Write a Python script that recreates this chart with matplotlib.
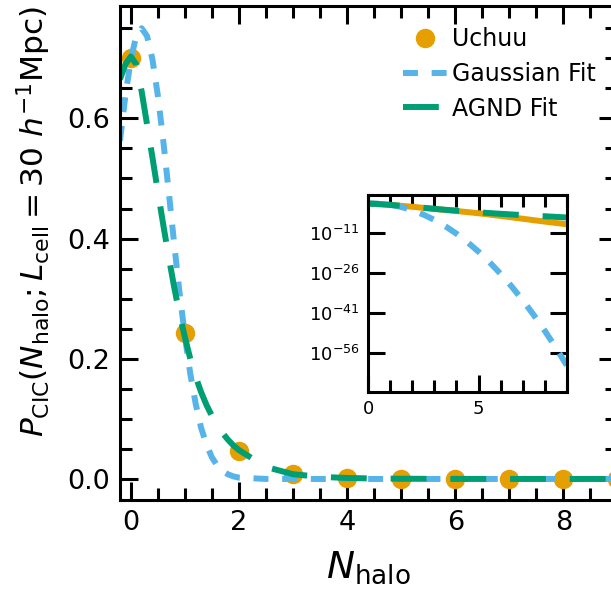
import matplotlib.pyplot as plt
from matplotlib.ticker import MultipleLocator, FixedLocator, NullLocator

# counts-in-cells probability, Uchuu haloes in 30 Mpc/h cells
n_halo = [0, 1, 2, 3, 4, 5, 6, 7, 8, 9]
p_uchuu = [0.70, 0.243, 0.047, 0.0076, 1.26e-3, 1.8e-4, 1.8e-5, 1.6e-6, 1.4e-7, 1.4e-8]

# fitted curves, sampled on a fine grid near the peak and a coarse one in the tail
fit_x = [-0.2, -0.1, 0.0, 0.1, 0.2, 0.3, 0.4, 0.5, 0.6, 0.7, 0.8, 0.9, 1.0,
         1.1, 1.2, 1.3, 1.4, 1.5, 1.6, 1.7, 1.8, 1.9, 2.0, 2.5, 3.0, 3.5,
         4.0, 4.5, 5.0, 5.5, 6.0, 6.5, 7.0, 7.5, 8.0, 8.5, 9.0]
p_gauss = [0.563, 0.638, 0.698, 0.737, 0.750, 0.737, 0.698, 0.638, 0.563,
           0.479, 0.393, 0.311, 0.238, 0.175, 0.125, 0.085, 0.057, 0.036,
           0.022, 0.013, 0.0076, 0.0042, 0.0022, 5.6e-5, 5.8e-7, 2.4e-9,
           4.1e-12, 2.8e-15, 8.0e-19, 9.2e-23, 4.3e-27, 8.3e-32, 6.4e-37,
           2.0e-42, 2.6e-48, 1.4e-54, 3.0e-61]
p_agnd = [0.665, 0.690, 0.703, 0.690, 0.645, 0.590, 0.535, 0.478, 0.423,
          0.370, 0.320, 0.275, 0.236, 0.200, 0.170, 0.1445, 0.123, 0.105,
          0.089, 0.076, 0.065, 0.0556, 0.048, 0.020, 0.0079, 0.0035,
          1.66e-3, 7.9e-4, 4.0e-4, 2.1e-4, 1.12e-4, 6.3e-5, 3.7e-5,
          2.2e-5, 1.35e-5, 7.9e-6, 4.8e-6]

inset_yticks = [1e-56, 1e-41, 1e-26, 1e-11]

ORANGE = "#E69F00"
BLUE = "#56B4E9"
GREEN = "#009E73"
LW = 4.3

fig = plt.figure(figsize=(6.11, 5.89), dpi=100)
ax = fig.add_axes([0.1964, 0.1511, 0.8142, 0.8387])

ax.plot(n_halo, p_uchuu, "o", color=ORANGE, ms=13, label="Uchuu")
ax.plot(fit_x, p_gauss, color=BLUE, lw=LW, dashes=(2.5, 2.3), label="Gaussian Fit")
ax.plot(fit_x, p_agnd, color=GREEN, lw=LW, dashes=(6, 4), label="AGND Fit")

ax.set_xlim(-0.2, 9.0)
ax.set_ylim(-0.035, 0.787)
ax.xaxis.set_major_locator(MultipleLocator(2))
ax.xaxis.set_minor_locator(MultipleLocator(0.5))
ax.yaxis.set_major_locator(MultipleLocator(0.2))
ax.yaxis.set_minor_locator(MultipleLocator(0.05))
ax.tick_params(which="both", direction="in", top=True, right=True,
               width=2.2, labelsize=19.5, pad=7)
ax.tick_params(which="major", length=13)
ax.tick_params(which="minor", length=8.6)
for sp in ax.spines.values():
    sp.set_linewidth(2.2)

ax.set_xlabel(r"$N_{\rm halo}$", fontsize=27, labelpad=10)
ax.set_ylabel(r"$P_{\rm CIC}(N_{\rm halo}; L_{\rm cell} = 30\ h^{-1}{\rm Mpc})$",
              fontsize=22.5)
ax.yaxis.set_label_coords(-0.135, 0.565)

ax.legend(loc="upper right", frameon=False, fontsize=17, handlelength=1.9,
          handletextpad=0.2, labelspacing=0.45, numpoints=1)

# log-scale inset showing the tails
axin = fig.add_axes([0.6028, 0.335, 0.3247, 0.3336])
axin.plot(n_halo, p_uchuu, "-", color=ORANGE, lw=LW)
axin.plot(fit_x, p_gauss, color=BLUE, lw=LW, dashes=(2.5, 2.3))
axin.plot(fit_x, p_agnd, color=GREEN, lw=LW, dashes=(6, 4))
axin.set_yscale("log")
axin.set_xlim(0, 9)
axin.set_ylim(10**-70.4, 10**3)
axin.yaxis.set_major_locator(FixedLocator(inset_yticks))
axin.yaxis.set_minor_locator(NullLocator())
axin.xaxis.set_major_locator(MultipleLocator(5))
axin.xaxis.set_minor_locator(MultipleLocator(1))
axin.tick_params(which="both", direction="in", top=True, right=True,
                 width=2.2, labelsize=13, pad=6)
axin.tick_params(which="major", length=12.5)
axin.tick_params(which="minor", length=8.6)
for sp in axin.spines.values():
    sp.set_linewidth(2.2)

fig.savefig("out.png", dpi=100)
